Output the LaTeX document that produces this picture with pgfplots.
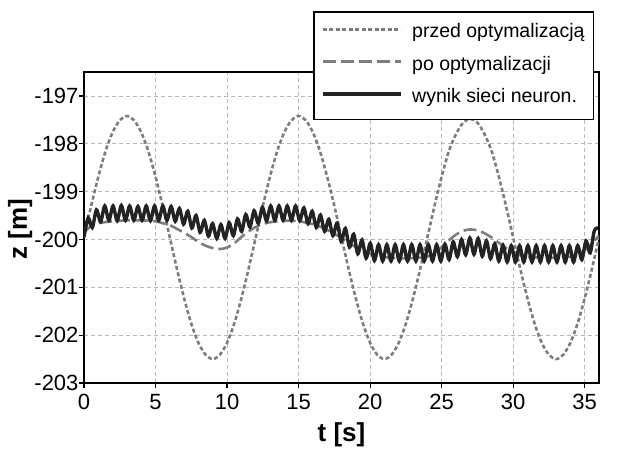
\documentclass[border=0pt]{standalone}
\usepackage{fontspec}
\setmainfont{Liberation Sans}
\usepackage{pgfplots}
\pgfplotsset{compat=1.18}

\definecolor{szary}{RGB}{125,125,125}
\definecolor{czarny}{RGB}{35,35,35}

\begin{document}
\begin{tikzpicture}
\begin{axis}[
    at={(84pt,69pt)}, anchor=south west,
    width=515pt, height=311pt, scale only axis,
    xmin=0, xmax=36,
    ymin=-203, ymax=-196.5,
    xtick={0,5,...,35},
    ytick={-203,-202,...,-197},
    /pgf/number format/assume math mode=true,
    ticklabel style={font=\fontsize{22}{26}\selectfont},
    xticklabel style={yshift=-3pt},
    yticklabel style={xshift=3pt},
    tick pos=left,
    tick align=outside,
    major tick length=5pt,
    tick style={black, line width=1.2pt},
    axis line style={black, line width=1.6pt},
    grid=major,
    major grid style={szary!55, line width=0.6pt, dash pattern=on 4pt off 3pt},
    xlabel={t [s]},
    ylabel={z [m]},
    label style={font=\fontsize{26}{30}\selectfont\bfseries},
    xlabel style={at={(axis description cs:0.5,-0.1865)}, anchor=base},
    ylabel style={at={(axis description cs:-0.1107,0.4936)}, anchor=base},
    legend image code/.code={\draw[#1] (0pt,4pt) -- (78pt,4pt);},
    legend cell align=left,
    legend style={at={(axis description cs:0.4447,1.1961)}, anchor=north west,
        draw=black, line width=1.6pt, fill=white,
        font=\fontsize{19.5}{23}\selectfont,
        inner xsep=7pt, inner ysep=10pt,
        row sep=9.4pt, column sep=8pt,
        nodes={inner sep=2pt, text height=14pt, text depth=5pt}},
]
% przed optymalizacja
\addplot[szary, line width=2.6pt, dash pattern=on 4pt off 2.5pt, smooth] coordinates {
(0,-199.96) (0.5,-199.30) (1,-198.69) (1.5,-198.16) (2,-197.76) (2.5,-197.51)
(3,-197.42) (3.5,-197.51) (4,-197.76) (4.5,-198.16) (5,-198.69) (5.5,-199.30)
(6,-199.96) (6.5,-200.62) (7,-201.23) (7.5,-201.76) (8,-202.16) (8.5,-202.41)
(9,-202.50) (9.5,-202.41) (10,-202.16) (10.5,-201.76) (11,-201.23) (11.5,-200.62)
(12,-199.96) (12.5,-199.30) (13,-198.69) (13.5,-198.16) (14,-197.76) (14.5,-197.51)
(15,-197.42) (15.5,-197.51) (16,-197.76) (16.5,-198.16) (17,-198.69) (17.5,-199.30)
(18,-199.96) (18.5,-200.62) (19,-201.23) (19.5,-201.76) (20,-202.16) (20.5,-202.41)
(21,-202.50) (21.5,-202.41) (22,-202.16) (22.5,-201.76) (23,-201.23) (23.5,-200.62)
(24,-199.96) (24.5,-199.30) (25,-198.69) (25.5,-198.16) (26,-197.80) (26.5,-197.56)
(27,-197.48) (27.5,-197.56) (28,-197.80) (28.5,-198.16) (29,-198.69) (29.5,-199.30)
(30,-199.96) (30.5,-200.62) (31,-201.23) (31.5,-201.76) (32,-202.16) (32.5,-202.41)
(33,-202.50) (33.5,-202.41) (34,-202.16) (34.5,-201.76) (35,-201.23) (35.5,-200.62)
(36,-199.96)
};
\addlegendentry{przed optymalizacją\hspace{23pt}}
% po optymalizacji
\addplot[szary, line width=2.6pt, dash pattern=on 13pt off 5pt, smooth] coordinates {
(0,-199.85) (0.5,-199.72) (1,-199.66) (2,-199.62) (3,-199.60) (4,-199.60)
(5,-199.62) (5.5,-199.66) (6,-199.70) (6.5,-199.78) (7,-199.86) (7.5,-199.95)
(8,-200.05) (8.5,-200.13) (9,-200.18) (9.5,-200.20) (10,-200.17) (10.5,-200.08)
(11,-199.95) (11.5,-199.83) (12,-199.74) (12.5,-199.68) (13,-199.64) (14,-199.61)
(15,-199.62) (16,-199.68) (16.5,-199.73) (17,-199.80) (17.5,-199.88) (18,-199.97)
(18.5,-200.07) (19,-200.16) (19.5,-200.24) (20,-200.30) (20.5,-200.34) (21,-200.37)
(22,-200.39) (23,-200.39) (24,-200.36) (24.5,-200.28) (25,-200.16) (25.5,-200.02)
(26,-199.90) (26.5,-199.82) (27,-199.79) (27.5,-199.81) (28,-199.87) (28.5,-199.96)
(29,-200.07) (29.5,-200.18) (30,-200.27) (30.5,-200.33) (31,-200.36) (32,-200.38)
(33,-200.38) (34,-200.36) (34.5,-200.32) (35,-200.22) (35.5,-200.08) (36,-199.92)
};
\addlegendentry{po optymalizacji}
% wynik sieci neuronowej
\addplot[czarny, line width=3.4pt, smooth] coordinates {
(0,-199.95) (0.29,-199.55) (0.58,-199.75) (0.87,-199.38) (1.16,-199.63) (1.45,-199.30)
(1.74,-199.60) (2.03,-199.30) (2.32,-199.61) (2.61,-199.29) (2.90,-199.60) (3.19,-199.30)
(3.48,-199.60) (3.77,-199.31) (4.06,-199.60) (4.35,-199.30) (4.64,-199.61) (4.93,-199.30)
(5.22,-199.60) (5.51,-199.30) (5.80,-199.60) (6.09,-199.31) (6.38,-199.62) (6.67,-199.35)
(6.96,-199.68) (7.25,-199.41) (7.54,-199.76) (7.83,-199.50) (8.12,-199.85) (8.41,-199.60)
(8.70,-199.93) (8.99,-199.67) (9.28,-199.98) (9.57,-199.69) (9.86,-199.98) (10.15,-199.65)
(10.44,-199.92) (10.73,-199.57) (11.02,-199.83) (11.31,-199.48) (11.60,-199.74) (11.89,-199.40)
(12.18,-199.66) (12.47,-199.33) (12.76,-199.61) (13.05,-199.30) (13.34,-199.60) (13.63,-199.30)
(13.92,-199.60) (14.21,-199.30) (14.50,-199.60) (14.79,-199.30) (15.08,-199.61) (15.37,-199.34)
(15.66,-199.67) (15.95,-199.41) (16.24,-199.75) (16.53,-199.49) (16.82,-199.83) (17.11,-199.58)
(17.40,-199.92) (17.69,-199.66) (17.98,-200.04) (18.27,-199.77) (18.56,-200.16) (18.85,-199.89)
(19.14,-200.30) (19.43,-200.01) (19.72,-200.39) (20.01,-200.08) (20.30,-200.44) (20.59,-200.11)
(20.88,-200.45) (21.17,-200.11) (21.46,-200.45) (21.75,-200.11) (22.04,-200.45) (22.33,-200.11)
(22.62,-200.45) (22.91,-200.11) (23.20,-200.45) (23.49,-200.11) (23.78,-200.45) (24.07,-200.11)
(24.36,-200.45) (24.65,-200.11) (24.94,-200.45) (25.23,-200.10) (25.52,-200.42) (25.81,-200.05)
(26.10,-200.36) (26.39,-200.00) (26.68,-200.32) (26.97,-199.97) (27.26,-200.31) (27.55,-199.98)
(27.84,-200.35) (28.13,-200.03) (28.42,-200.40) (28.71,-200.09) (29.00,-200.45) (29.29,-200.12)
(29.58,-200.47) (29.87,-200.13) (30.16,-200.47) (30.45,-200.13) (30.74,-200.47) (31.03,-200.13)
(31.32,-200.47) (31.61,-200.13) (31.90,-200.47) (32.19,-200.13) (32.48,-200.47) (32.77,-200.13)
(33.06,-200.47) (33.35,-200.13) (33.64,-200.47) (33.93,-200.13) (34.22,-200.47) (34.51,-200.13)
(34.80,-200.42) (35.09,-200.03) (35.38,-200.28) (35.67,-199.82) (35.96,-199.76)
};
\addlegendentry{wynik sieci neuron.}
\end{axis}
\path (0pt,0pt) rectangle (617pt,452pt);
\end{tikzpicture}
\end{document}
